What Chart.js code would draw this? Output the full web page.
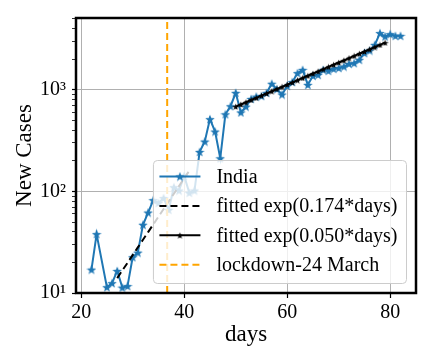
<!DOCTYPE html>
<html>
<head>
<meta charset="utf-8">
<script src="https://cdn.jsdelivr.net/npm/chart.js@4"></script>
<style>
html, body { margin: 0; padding: 0; background: #fff; }
</style>
</head>
<body>
<canvas id="graficoCasos" width="432" height="360"></canvas>
<script>
// datos India (dias desde el inicio, casos nuevos por dia)
const days = [22, 23, 25, 26, 27, 28, 29, 30, 31, 32, 33, 34, 35, 36, 37, 38, 39, 40, 41, 42,
  43, 44, 45, 46, 47, 48, 49, 50, 51, 52, 53, 54, 55, 56, 57, 58, 59, 60, 61, 62,
  63, 64, 65, 66, 67, 68, 69, 70, 71, 72, 73, 74, 75, 76, 77, 78, 79, 80, 81, 82];
const cases = [17, 38, 11.4, 12.5, 16.5, 11.3, 11.7, 22.5, 25, 47, 62, 82, 77, 86, 66, 110, 102, 142, 97, 102,
  245, 310, 515, 389, 212, 575, 690, 935, 600, 684, 815, 859, 870, 935, 1150, 1016, 900, 1094, 1195, 1462,
  1575, 1120, 1374, 1406, 1575, 1539, 1611, 1640, 1697, 1803, 1832, 1977, 2301, 2440, 2775, 3620, 3350, 3538, 3404, 3404];

// ajuste exponencial temprano (0.174)
const fitDaysA = [27, 28, 29, 30, 31, 32, 33, 34, 35, 36, 37, 38, 39, 40, 41];
const fitCasesA = [14.0, 16.7, 19.8, 23.6, 28.1, 33.4, 39.8, 47.3, 56.3, 67.1, 79.8, 95.0, 113, 135, 160];

// ajuste exponencial tardio (0.050)
const fitDaysB = [50, 51, 52, 53, 54, 55, 56, 57, 58, 59, 60, 61, 62, 63, 64,
  65, 66, 67, 68, 69, 70, 71, 72, 73, 74, 75, 76, 77, 78, 79];
const fitCasesB = [684, 719, 756, 795, 835, 878, 923, 970, 1020, 1072, 1128, 1185, 1246, 1310, 1377,
  1448, 1522, 1600, 1682, 1768, 1858, 1953, 2054, 2159, 2269, 2386, 2508, 2636, 2771, 2913];

const lockdownDay = 36.7;

const xTicks = [20, 40, 60, 80];
const yMajor = [10, 100, 1000];
const yLabels = ['10¹', '10²', '10³'];
const xMin = 19, xMax = 85, yMin = 10, yMax = 5100;

const labelsLeyenda = ['India', 'fitted exp(0.174*days)', 'fitted exp(0.050*days)', 'lockdown-24 March'];

const fuente = "'Liberation Serif', 'Times New Roman', serif";

function estrella(size, color) {
  const c = document.createElement('canvas');
  c.width = size;
  c.height = size;
  const g = c.getContext('2d');
  const r = size / 2, ri = r * 0.42;
  g.beginPath();
  for (let i = 0; i < 10; i++) {
    const a = -Math.PI / 2 + i * Math.PI / 5;
    const rr = i % 2 ? ri : r;
    g.lineTo(r + rr * Math.cos(a), r + 0.5 + rr * Math.sin(a));
  }
  g.closePath();
  g.fillStyle = color;
  g.fill();
  return c;
}

const starBlue = estrella(10, '#1f77b4');
const starBlack = estrella(7, '#000');

const toPts = (xs, ys) => xs.map((d, i) => ({ x: d, y: ys[i] }));

// leyenda tipo matplotlib + marco de los ejes
const marco = {
  id: 'marco',
  afterDraw(chart) {
    const ctx = chart.ctx;
    const a = chart.chartArea;
    ctx.save();
    ctx.font = '20px ' + fuente;
    let tw = 0;
    labelsLeyenda.forEach(t => { tw = Math.max(tw, ctx.measureText(t).width); });
    const w = 63 + tw + 9;
    const h = 123;
    const x0 = a.right - 9.5 - w;
    const y0 = a.bottom - 9.5 - h;
    ctx.beginPath();
    ctx.roundRect(x0, y0, w, h, 4);
    ctx.fillStyle = 'rgba(255,255,255,0.8)';
    ctx.fill();
    ctx.strokeStyle = '#cccccc';
    ctx.lineWidth = 1;
    ctx.stroke();

    const hx1 = x0 + 6, hx2 = x0 + 47, tx = x0 + 63;
    labelsLeyenda.forEach((t, i) => {
      const cy = y0 + 16 + i * 29.4;
      ctx.beginPath();
      ctx.setLineDash(i === 1 || i === 3 ? [7, 4] : []);
      ctx.strokeStyle = ['#1f77b4', '#000', '#000', '#ffa500'][i];
      ctx.lineWidth = 2;
      ctx.moveTo(hx1, cy);
      ctx.lineTo(hx2, cy);
      ctx.stroke();
      ctx.setLineDash([]);
      const mid = (hx1 + hx2) / 2;
      if (i === 0) ctx.drawImage(starBlue, mid - 5, cy - 5);
      if (i === 2) ctx.drawImage(starBlack, mid - 3.5, cy - 3.5);
      ctx.fillStyle = '#000';
      ctx.textBaseline = 'middle';
      ctx.textAlign = 'left';
      ctx.fillText(t, tx, cy + 1);
    });

    ctx.strokeStyle = '#000';
    ctx.lineWidth = 2.5;
    ctx.strokeRect(a.left, a.top, a.right - a.left, a.bottom - a.top);
    ctx.restore();
  }
};

const ctxCasos = document.getElementById('graficoCasos').getContext('2d');

const casosChart = new Chart(ctxCasos, {
  type: 'line',
  data: {
    datasets: [{
      label: labelsLeyenda[3],
      data: [{ x: lockdownDay, y: yMin }, { x: lockdownDay, y: yMax }],
      borderColor: '#ffa500',
      borderDash: [7, 4],
      borderWidth: 2,
      pointRadius: 0,
      order: 0
    }, {
      label: labelsLeyenda[2],
      data: toPts(fitDaysB, fitCasesB),
      borderColor: '#000',
      borderWidth: 2,
      pointStyle: starBlack,
      pointRadius: 3,
      order: 1
    }, {
      label: labelsLeyenda[1],
      data: toPts(fitDaysA, fitCasesA),
      borderColor: '#000',
      borderDash: [7, 4],
      borderWidth: 2,
      pointRadius: 0,
      order: 2
    }, {
      label: labelsLeyenda[0],
      data: toPts(days, cases),
      borderColor: '#1f77b4',
      borderWidth: 2,
      pointStyle: starBlue,
      pointRadius: 5,
      order: 3
    }]
  },
  options: {
    responsive: false,
    animation: false,
    devicePixelRatio: 1,
    layout: { padding: { top: 18, right: 16, left: 0, bottom: 0 } },
    plugins: { legend: { display: false }, tooltip: { enabled: false } },
    elements: { line: { tension: 0, fill: false } },
    scales: {
      x: {
        type: 'linear',
        min: xMin,
        max: xMax,
        afterBuildTicks: s => { s.ticks = xTicks.map(v => ({ value: v })); },
        afterFit: s => { s.height = 67; },
        border: { display: false },
        grid: { color: '#b0b0b0', lineWidth: 1, tickColor: '#000', tickLength: 5, tickWidth: 1.2 },
        ticks: { color: '#000', font: { family: fuente, size: 20 }, padding: 3, maxRotation: 0, autoSkip: false },
        title: { display: true, text: 'days', color: '#000', font: { family: fuente, size: 23 }, padding: { top: 0, bottom: 11 } }
      },
      y: {
        type: 'logarithmic',
        min: yMin,
        max: yMax,
        afterBuildTicks: s => {
          const t = [];
          for (let e = 1; e <= 3; e++) {
            for (let k = 1; k <= 9; k++) {
              const v = k * Math.pow(10, e);
              if (v <= yMax) t.push({ value: v });
            }
          }
          s.ticks = t;
        },
        afterFit: s => { s.width = 76; },
        border: { display: false },
        grid: {
          color: c => (c.tick && yMajor.includes(c.tick.value)) ? '#b0b0b0' : 'rgba(0,0,0,0)',
          lineWidth: 1,
          tickColor: '#000',
          tickLength: 4,
          tickWidth: c => (c.tick && yMajor.includes(c.tick.value)) ? 1.2 : 0.8
        },
        ticks: {
          color: '#000',
          font: { family: fuente, size: 20 },
          padding: 6,
          autoSkip: false,
          callback: v => {
            const i = yMajor.indexOf(v);
            return i >= 0 ? yLabels[i] : '';
          }
        },
        title: { display: true, text: 'New Cases', color: '#000', font: { family: fuente, size: 23 }, padding: { top: 11, bottom: 0 } }
      }
    }
  },
  plugins: [marco]
});
</script>
</body>
</html>
